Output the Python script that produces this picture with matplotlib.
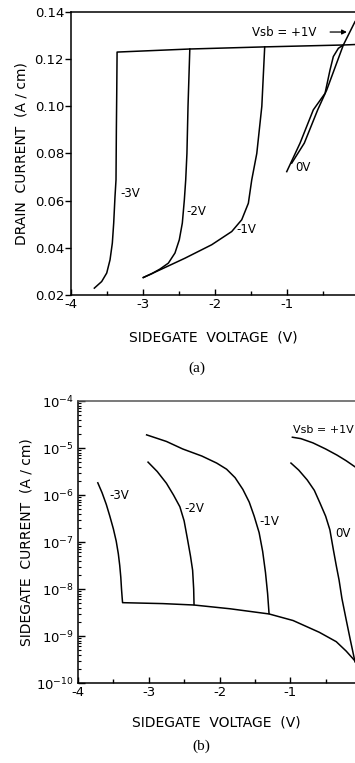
import numpy as np
import matplotlib
matplotlib.use("Agg")
import matplotlib.pyplot as plt
from matplotlib.ticker import FixedLocator, NullFormatter, LogLocator

plt.rcParams.update({
    "font.family": "DejaVu Sans",
    "axes.unicode_minus": False,
    "font.size": 9,
    "axes.linewidth": 1.1,
    "lines.linewidth": 1.1,
})

# ── (a) drain current vs sidegate voltage ────────────────
a_m3_v = [-3.676, -3.574, -3.504, -3.458, -3.426, -3.407, -3.389, -3.375, -3.37, -3.365, -3.36]
a_m3_i = [0.0229, 0.0257, 0.0293, 0.0349, 0.0420, 0.0505, 0.0617, 0.0688, 0.090, 0.105, 0.123]
a_top_v = [-3.36, -2.35, -1.31, -0.22, -0.056]
a_top_i = [0.1230, 0.1243, 0.1252, 0.1260, 0.1262]
a_m2_v = [-2.996, -2.88, -2.764, -2.648, -2.556, -2.496, -2.454, -2.426, -2.407, -2.39, -2.375, -2.35]
a_m2_i = [0.0274, 0.0290, 0.0310, 0.0335, 0.0378, 0.0434, 0.0505, 0.0603, 0.0688, 0.080, 0.100, 0.1243]
a_m1_v = [-2.996, -2.74, -2.417, -2.046, -1.768, -1.629, -1.537, -1.49, -1.42, -1.35, -1.31]
a_m1_i = [0.0274, 0.0310, 0.0356, 0.0413, 0.0469, 0.0519, 0.0589, 0.0688, 0.080, 0.100, 0.1252]
a_0_v = [-1.004, -0.819, -0.635, -0.472, -0.403, -0.357, -0.287, -0.218]
a_0_i = [0.0723, 0.0844, 0.0985, 0.1055, 0.1154, 0.1211, 0.1246, 0.1260]
a_p1_v = [-0.935, -0.760, -0.574, -0.449, -0.218, -0.056]
a_p1_i = [0.0759, 0.0844, 0.0985, 0.1069, 0.1260, 0.1359]

# ── (b) sidegate current (log10 A/cm) ─────────────────────
b_m3_v = [-3.72, -3.66, -3.60, -3.55, -3.50, -3.46, -3.43, -3.41, -3.395, -3.385, -3.375, -3.37]
b_m3_log = [-5.74, -5.95, -6.2, -6.45, -6.72, -6.98, -7.25, -7.5, -7.75, -8.0, -8.2, -8.29]
b_floor_v = [-3.37, -2.80, -2.36, -1.85, -1.30, -0.96, -0.59, -0.35, -0.21, -0.085]
b_floor_log = [-8.29, -8.31, -8.34, -8.42, -8.53, -8.67, -8.92, -9.12, -9.32, -9.53]
b_m2_v = [-3.01, -2.88, -2.75, -2.65, -2.56, -2.50, -2.45, -2.41, -2.38, -2.365, -2.36]
b_m2_log = [-5.30, -5.5, -5.75, -6.0, -6.25, -6.55, -6.96, -7.3, -7.6, -8.0, -8.33]
b_m1_v = [-3.03, -2.75, -2.52, -2.25, -2.04, -1.90, -1.78, -1.67, -1.58, -1.51,
          -1.44, -1.39, -1.35, -1.32, -1.30]
b_m1_log = [-4.72, -4.86, -5.02, -5.17, -5.32, -5.45, -5.63, -5.88, -6.15, -6.45,
            -6.8, -7.2, -7.65, -8.1, -8.52]
b_0_v = [-0.99, -0.88, -0.76, -0.66, -0.58, -0.50, -0.44, -0.39, -0.35, -0.31, -0.27, -0.21, -0.15, -0.085]
b_0_log = [-5.32, -5.47, -5.68, -5.9, -6.17, -6.45, -6.74, -7.17, -7.5, -7.81, -8.2, -8.65, -9.09, -9.55]
b_p1_v = [-0.97, -0.85, -0.68, -0.50, -0.34, -0.21, -0.085]
b_p1_log = [-4.77, -4.80, -4.89, -5.02, -5.15, -5.27, -5.40]

a_yticks = [0.02, 0.04, 0.06, 0.08, 0.10, 0.12, 0.14]
x_ticks = [-4, -3, -2, -1]

fig = plt.figure(figsize=(3.55, 7.63), dpi=100)

# ────────────────────────── (a)
ax1 = fig.add_axes([0.2, 0.6134, 0.8, 0.3709])
ax1.plot(a_m3_v + a_top_v[1:], a_m3_i + a_top_i[1:], color="k")
ax1.plot(a_m2_v, a_m2_i, color="k")
ax1.plot(a_m1_v, a_m1_i, color="k")
ax1.plot(a_0_v, a_0_i, color="k")
ax1.plot(a_p1_v, a_p1_i, color="k")

ax1.set_xlim(-4, -0.056)
ax1.set_ylim(0.02, 0.14)
ax1.spines["right"].set_visible(False)
ax1.xaxis.set_major_locator(FixedLocator(x_ticks))
ax1.xaxis.set_minor_locator(FixedLocator([-3.5, -2.5, -1.5, -0.5]))
ax1.set_yticks(a_yticks)
ax1.set_yticklabels([f"{t:.2f}" for t in a_yticks])
ax1.tick_params(axis="x", which="both", direction="in", length=4, width=1, labelsize=9.5, pad=2)
ax1.tick_params(axis="x", which="minor", length=3)
ax1.tick_params(axis="y", direction="out", length=4, width=1, labelsize=9.5, pad=1)
# the "0" tick label sits on the cropped right edge, as in the scan
ax1.annotate("0", xy=(0, 0), xycoords=("data", "axes fraction"),
             xytext=(0, -6), textcoords="offset points",
             ha="center", va="top", fontsize=9.5, annotation_clip=False)

ax1.text(-3.32, 0.0632, "-3V", fontsize=8.5, va="center")
ax1.text(-2.393, 0.0554, "-2V", fontsize=8.5, va="center")
ax1.text(-1.70, 0.0476, "-1V", fontsize=8.5, va="center")
ax1.text(-0.89, 0.0740, "0V", fontsize=8.5, va="center")
ax1.text(-1.49, 0.1315, "Vsb = +1V", fontsize=8.5, va="center")
ax1.annotate("", xy=(-0.13, 0.1315), xytext=(-0.44, 0.1315),
             arrowprops=dict(arrowstyle="-|>", color="k", lw=0.9,
                             mutation_scale=7))

ax1.set_ylabel("DRAIN  CURRENT  (A / cm)", fontsize=10, labelpad=4)
ax1.set_xlabel("SIDEGATE  VOLTAGE  (V)", fontsize=10, labelpad=14)
fig.text(197 / 355, 1 - 368 / 763, "(a)", family="Liberation Serif",
         fontsize=11, ha="center", va="center")

# ────────────────────────── (b)
ax2 = fig.add_axes([0.2197, 0.1048, 0.7803, 0.3696])
ax2.set_yscale("log")
ax2.plot(b_m3_v + b_floor_v[1:], 10 ** np.array(b_m3_log + b_floor_log[1:]), color="k")
ax2.plot(b_m2_v, 10 ** np.array(b_m2_log), color="k")
ax2.plot(b_m1_v, 10 ** np.array(b_m1_log), color="k")
ax2.plot(b_0_v, 10 ** np.array(b_0_log), color="k")
ax2.plot(b_p1_v, 10 ** np.array(b_p1_log), color="k")

ax2.set_xlim(-4, -0.085)
ax2.set_ylim(1e-10, 1e-4)
ax2.spines["right"].set_visible(False)
ax2.spines["top"].set_color("#555555")
ax2.xaxis.set_major_locator(FixedLocator(x_ticks))
ax2.xaxis.set_minor_locator(FixedLocator([-3.5, -2.5, -1.5, -0.5]))
ax2.yaxis.set_major_locator(LogLocator(base=10, numticks=10))
ax2.yaxis.set_minor_locator(LogLocator(base=10, subs=np.arange(2, 10), numticks=10))
ax2.yaxis.set_minor_formatter(NullFormatter())
ax2.tick_params(axis="x", which="both", direction="in", length=4, width=1, labelsize=9.5, pad=2)
ax2.tick_params(axis="x", which="minor", length=3)
ax2.tick_params(axis="y", which="major", direction="in", length=5, width=1, labelsize=9.5, pad=3)
ax2.tick_params(axis="y", which="minor", direction="in", length=2.5, width=0.8)

ax2.text(-3.55, 10 ** -6.02, "-3V", fontsize=8.5, va="center")
ax2.text(-2.49, 10 ** -6.28, "-2V", fontsize=8.5, va="center")
ax2.text(-1.43, 10 ** -6.57, "-1V", fontsize=8.5, va="center")
ax2.text(-0.37, 10 ** -6.81, "0V", fontsize=8.5, va="center")
ax2.text(-0.96, 10 ** -4.62, "Vsb = +1V", fontsize=8, va="center")

ax2.set_ylabel("SIDEGATE  CURRENT  (A / cm)", fontsize=10, labelpad=2)
ax2.set_xlabel("SIDEGATE  VOLTAGE  (V)", fontsize=10, labelpad=12)
fig.text(201 / 355, 1 - 746 / 763, "(b)", family="Liberation Serif",
         fontsize=11, ha="center", va="center")

fig.savefig("out.png", dpi=100)
